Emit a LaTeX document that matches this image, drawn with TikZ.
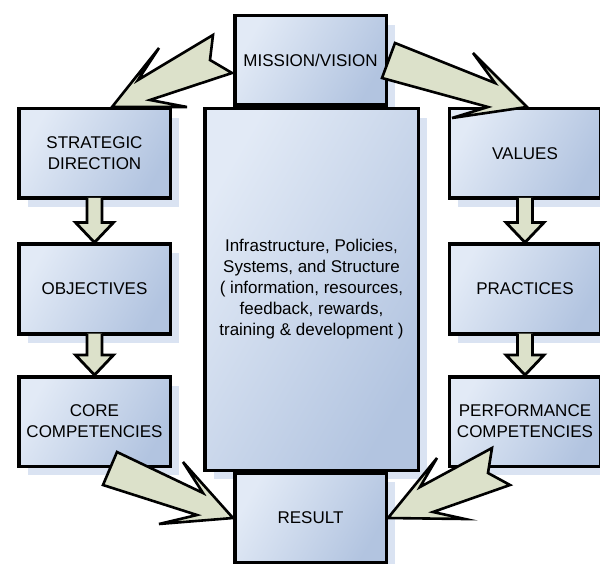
\documentclass[tikz,border=0pt]{standalone}
\usepackage{fontspec}
\setmainfont{Liberation Sans}
\usetikzlibrary{calc,shadows}
\definecolor{boxlight}{HTML}{E2EAF6}
\definecolor{boxdark}{HTML}{B2C4E0}
\definecolor{boxshadow}{HTML}{D3DEF0}
\definecolor{arrowfill}{HTML}{DCE1CA}
\tikzset{
  box/.style={draw=black, line width=3.5pt, top color=boxlight, bottom color=boxdark,
    shading angle=60, minimum width=151.5pt, minimum height=89.5pt, align=center,
    inner sep=2pt, font=\fontsize{17}{21}\selectfont,
    drop shadow={shadow xshift=9pt, shadow yshift=-9pt, fill=boxshadow, opacity=.85}},
  flowarrow/.style={draw=black, line width=2.8pt, fill=arrowfill, line join=miter},
  bigarrow/.style={draw=black, line width=2.6pt, fill=arrowfill, line join=miter}
}
% small arrow straight down from one box to the next
\newcommand{\flowdown}[2]{%
  \filldraw[flowarrow] ($(#1.south)+(-7.5,-2)$) -- ($(#2.north)+(-7.5,-20)$)
    -- ($(#2.north)+(-19,-20)$) -- (#2.north) -- ($(#2.north)+(19,-20)$)
    -- ($(#2.north)+(7.5,-20)$) -- ($(#1.south)+(7.5,-2)$);}
\begin{document}
\begin{tikzpicture}[x=1pt,y=-1pt]
  \useasboundingbox (0,0) rectangle (600,564);
  % left column
  \node[box] (strat) at (94.5,153.5) {STRATEGIC\\DIRECTION};
  \node[box] (obj) at (94.5,289) {OBJECTIVES};
  \node[box] (core) at (94.5,421.5) {CORE\\COMPETENCIES};
  % middle column
  \node[box] (mis) at (310.5,60.5) {MISSION/VISION};
  \node[box, minimum width=213.5pt, minimum height=361.5pt] (infra) at (311.5,289.5)
    {Infrastructure, Policies,\\Systems, and Structure\\( information, resources,\\feedback, rewards,\\training \& development )};
  \node[box] (res) at (310.5,518) {RESULT};
  % right column
  \node[box] (val) at (525,153.5) {VALUES};
  \node[box] (prac) at (525,289) {PRACTICES};
  \node[box] (perf) at (525,421.5) {PERFORMANCE\\COMPETENCIES};
  % down arrows
  \flowdown{strat}{obj}
  \flowdown{obj}{core}
  \flowdown{val}{prac}
  \flowdown{prac}{perf}
  % big arrows
  \filldraw[bigarrow] (213,35) -- (210,60) -- (232,73) -- (150,100) -- (187,107)
    -- ($(strat.north)+(17.5,0)$) -- (159,48) -- (138,80) -- cycle;
  \filldraw[bigarrow] (395,43) -- (495,83) -- (473,53) -- ($(val.north)+(2,0)$)
    -- (452,118) -- (488,107) -- (382,78) -- cycle;
  \filldraw[bigarrow] (117,452) -- (203,493) -- (183,462) -- (res.west)
    -- (159,524) -- (197,515) -- (103,485) -- cycle;
  \filldraw[bigarrow] (492,448) -- (488,473) -- (510,485) -- (433,512) -- (465,519)
    -- (res.east) -- (437,458) -- (420,487) -- cycle;
\end{tikzpicture}
\end{document}
